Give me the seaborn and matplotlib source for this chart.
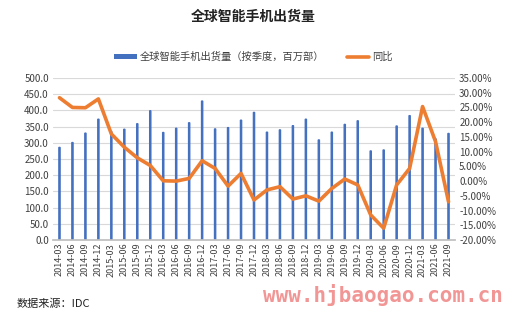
import matplotlib
matplotlib.use("Agg")
import matplotlib.pyplot as plt
import seaborn as sns
import pandas as pd
import numpy as np
from matplotlib.patches import Patch
from matplotlib.lines import Line2D
from matplotlib.ticker import FuncFormatter, MultipleLocator

quarters = ["2014-03", "2014-06", "2014-09", "2014-12",
            "2015-03", "2015-06", "2015-09", "2015-12",
            "2016-03", "2016-06", "2016-09", "2016-12",
            "2017-03", "2017-06", "2017-09", "2017-12",
            "2018-03", "2018-06", "2018-09", "2018-12",
            "2019-03", "2019-06", "2019-09", "2019-12",
            "2020-03", "2020-06", "2020-09", "2020-12",
            "2021-03", "2021-06", "2021-09"]
shipments = [286, 301, 330, 373,
             334, 342, 359, 399,
             332, 345, 362, 429,
             343, 347, 370, 394,
             333, 340, 353, 373,
             309, 333, 357, 368,
             275, 278, 352, 384,
             345, 312, 329]
yoy = [28.3, 25.0, 24.9, 27.9,
       16.0, 11.5, 7.9, 5.3,
       0.1, 0.0, 0.9, 6.9,
       4.3, -1.7, 2.6, -6.4,
       -3.0, -1.9, -6.1, -5.0,
       -6.8, -2.5, 0.7, -1.3,
       -11.5, -16.0, -1.3, 4.3,
       25.3, 13.4, -7.0]

bar_label = "全球智能手机出货量（按季度，百万部）"
line_label = "同比"
title = "全球智能手机出货量"
source = "数据来源：IDC"

df = pd.DataFrame({"quarter": quarters, "shipments": shipments, "yoy": yoy})
df["idx"] = np.arange(len(df))

sns.set_theme(style="white")
plt.rcParams["font.family"] = ["Noto Sans CJK SC", "DejaVu Sans"]

BLUE = "#4470C0"
ORANGE = "#ED7D31"
TXT = "#404040"

fig = plt.figure(figsize=(5.07, 3.2), dpi=100)
ax = fig.add_axes([53 / 507, 1 - 240 / 320, (455 - 53) / 507, (240 - 78) / 320])

sns.barplot(data=df, x="quarter", y="shipments", color=BLUE, width=0.1,
            saturation=1, ax=ax, edgecolor=BLUE, linewidth=0.9)
for p in ax.patches:
    p.set_snap(False)
ax.set_xlim(-0.5, len(df) - 0.5)
ax.set_ylim(0, 500)
ax.yaxis.set_major_locator(MultipleLocator(50))
ax.yaxis.set_major_formatter(FuncFormatter(lambda v, p: f"{v:.1f}"))
ax.grid(axis="y", color="#D9D9D9", linewidth=0.8)
ax.set_axisbelow(True)
ax.set_xticks(df["idx"])
ax.set_xticklabels(quarters, rotation=90, fontsize=6.5, color=TXT)
ax.set_xticks(np.arange(-0.5, len(df), 1), minor=True)
ax.tick_params(axis="x", which="major", length=0, pad=2)
ax.tick_params(axis="x", which="minor", length=3, color="#BFBFBF", width=0.8)
ax.tick_params(axis="y", labelsize=7, colors=TXT, length=0, pad=3)
ax.set_xlabel("")
ax.set_ylabel("")
for s in ["top", "right", "left"]:
    ax.spines[s].set_visible(False)
ax.spines["bottom"].set_color("#BFBFBF")

ax2 = ax.twinx()
sns.lineplot(data=df, x="idx", y="yoy", color=ORANGE, linewidth=2.6, ax=ax2)
ax2.set_ylim(-20, 35)
ax2.yaxis.set_major_locator(MultipleLocator(5))
ax2.yaxis.set_major_formatter(FuncFormatter(lambda v, p: f"{v:.2f}%"))
ax2.tick_params(axis="y", labelsize=7, colors=TXT, length=0, pad=3)
ax2.set_xlim(-0.5, len(df) - 0.5)
ax2.set_ylabel("")
ax2.set_xlabel("")
for s in ["top", "right", "left", "bottom"]:
    ax2.spines[s].set_visible(False)

fig.text(0.5, 1 - 17 / 320, title, ha="center", va="center",
         fontsize=10, fontweight="bold", color="#222222")

handles = [Patch(facecolor=BLUE, edgecolor="none"),
           Line2D([0], [0], color=ORANGE, linewidth=2.6)]
fig.legend(handles, [bar_label, line_label], loc="center",
           bbox_to_anchor=(0.5, 1 - 57 / 320), ncol=2, frameon=False,
           fontsize=7.4, handlelength=2.2, handleheight=0.35,
           handletextpad=0.3, columnspacing=2.2, labelcolor=TXT)

fig.text(17 / 507, 1 - 304 / 320, source, ha="left", va="center",
         fontsize=8, color="#222222")
fig.text(383 / 507, 1 - 295 / 320, "www.hjbaogao.com.cn", ha="center",
         va="center", fontsize=15, fontweight="bold", color="#F08A8A",
         family="DejaVu Sans Mono", alpha=0.9)

fig.savefig("out.png", dpi=100)
